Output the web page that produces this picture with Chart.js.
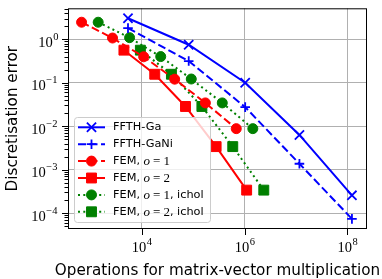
<!DOCTYPE html>
<html>
<head>
<meta charset="utf-8">
<script src="https://cdn.jsdelivr.net/npm/chart.js@4/dist/chart.umd.min.js"></script>
<style>
  html, body { margin: 0; padding: 0; background: #fff; }
  #wrap { width: 382px; height: 279px; }
</style>
</head>
<body>
<div id="wrap"><canvas id="myChart" width="382" height="279"></canvas></div>
<script>
// data
const fftOps = [5.4e3, 8.2e4, 1.03e6, 1.17e7, 1.23e8];
const gaErr = [3.05, 0.75, 0.10, 0.0063, 2.57e-4];
const gaNiErr = [1.81, 0.316, 0.0275, 1.37e-3, 7.4e-5];
const femO1Ops = [675, 2700, 1.09e4, 4.37e4, 1.73e5, 6.9e5];
const femO1Err = [2.47, 1.07, 0.396, 0.121, 0.0344, 0.0088];
const femO2Ops = [4.5e3, 1.79e4, 7.1e4, 2.8e5, 1.1e6];
const femO2Err = [0.562, 0.157, 0.0285, 3.4e-3, 3.39e-4];
const icholO1Ops = [1.42e3, 5.8e3, 2.34e4, 9.2e4, 3.69e5, 1.45e6];
const icholO1Err = [2.47, 1.09, 0.40, 0.122, 0.0344, 0.0088];
const icholO2Ops = [9.4e3, 3.78e4, 1.48e5, 5.9e5, 2.37e6];
const icholO2Err = [0.562, 0.157, 0.0285, 3.4e-3, 3.39e-4];

const xTickExps = [4, 6, 8];
const yTickExps = [0, -1, -2, -3, -4];

const xMin = Math.pow(10, 2.565), xMax = Math.pow(10, 8.383);
const yMin = Math.pow(10, -4.364), yMax = Math.pow(10, 0.713);

const BLUE = '#0000ff', RED = '#ff0000', GREEN = '#008000';
const DASH = [8, 3.5], DOT = [2, 3.3];

function pts(xs, ys) {
  return xs.map((x, i) => ({ x: x, y: ys[i] }));
}

function series(label, xs, ys, color, dash, style, radius) {
  return {
    label: label,
    data: pts(xs, ys),
    borderColor: color,
    backgroundColor: color,
    borderWidth: 2,
    borderDash: dash,
    pointStyle: style,
    pointRadius: radius,
    pointBorderWidth: style === 'cross' || style === 'crossRot' ? 1.8 : 1,
    pointBorderColor: color,
    pointBackgroundColor: color,
    tension: 0,
    fill: false
  };
}

const datasets = [
  series('FFTH-Ga', fftOps, gaErr, BLUE, [], 'crossRot', 6.5),
  series('FFTH-GaNi', fftOps, gaNiErr, BLUE, DASH, 'cross', 4.8),
  series('FEM, o = 1', femO1Ops, femO1Err, RED, DASH, 'circle', 5),
  series('FEM, o = 2', femO2Ops, femO2Err, RED, [], 'rect', 7),
  series('FEM, o = 1, ichol', icholO1Ops, icholO1Err, GREEN, DOT, 'circle', 5),
  series('FEM, o = 2, ichol', icholO2Ops, icholO2Err, GREEN, DOT, 'rect', 7)
];

const SANS = '"DejaVu Sans", sans-serif';
const SERIF = '"Liberation Serif", serif';

// draw "10" with a raised exponent
function drawPow(ctx, exp, x, y, align) {
  const e = exp < 0 ? '\u2212' + (-exp) : String(exp);
  ctx.font = '14.5px ' + SERIF;
  const wb = ctx.measureText('10').width;
  ctx.font = '10.5px ' + SERIF;
  const we = ctx.measureText(e).width + (exp < 0 ? 1 : 0);
  let x0 = align === 'right' ? x - wb - we : x - (wb + we) / 2;
  ctx.fillStyle = '#000';
  ctx.textAlign = 'left';
  ctx.textBaseline = 'alphabetic';
  ctx.font = '14.5px ' + SERIF;
  ctx.fillText('10', x0, y);
  ctx.font = '10.5px ' + SERIF;
  ctx.fillText(e, x0 + wb + 0.5, y - 7);
}

// legend label, "o = n" in math style
function drawLabel(ctx, text, x, y) {
  const m = text.match(/^(.*?)(o = \d)(.*)$/);
  ctx.textAlign = 'left';
  ctx.textBaseline = 'middle';
  ctx.fillStyle = '#000';
  ctx.font = '11.3px ' + SANS;
  if (!m) {
    ctx.fillText(text, x, y);
    return;
  }
  ctx.fillText(m[1], x, y);
  x += ctx.measureText(m[1]).width;
  ctx.font = 'italic 13px ' + SERIF;
  ctx.fillText('o', x, y + 0.5);
  x += ctx.measureText('o').width + 3;
  ctx.font = '13px ' + SERIF;
  ctx.fillText('=', x, y + 0.5);
  x += ctx.measureText('=').width + 3;
  ctx.fillText(m[2].slice(-1), x, y + 0.5);
  x += ctx.measureText('1').width;
  ctx.font = '11.3px ' + SANS;
  ctx.fillText(m[3], x, y);
}

const decorations = {
  id: 'decorations',
  afterDraw(chart) {
    const ctx = chart.ctx;
    const a = chart.chartArea;
    const xs = chart.scales.x, ys = chart.scales.y;
    ctx.save();

    // frame
    ctx.strokeStyle = '#000';
    ctx.lineWidth = 1;
    ctx.strokeRect(a.left + 0.5, a.top + 0.5, a.right - a.left - 1, a.bottom - a.top - 1);

    // tick marks
    ctx.beginPath();
    xs.ticks.forEach(t => {
      const px = Math.round(xs.getPixelForValue(t.value)) + 0.5;
      ctx.moveTo(px, a.bottom);
      ctx.lineTo(px, a.bottom + 6);
    });
    ys.ticks.forEach(t => {
      const py = Math.round(ys.getPixelForValue(t.value)) + 0.5;
      ctx.moveTo(a.left, py);
      ctx.lineTo(a.left - (t.major ? 6 : 3.5), py);
    });
    ctx.stroke();

    // tick labels
    xTickExps.forEach(e => {
      const px = xs.getPixelForValue(Math.pow(10, e));
      drawPow(ctx, e, px, 252, 'center');
    });
    yTickExps.forEach(e => {
      const py = ys.getPixelForValue(Math.pow(10, e));
      drawPow(ctx, e, a.left - 10, py + 7.5, 'right');
    });

    // axis titles
    ctx.fillStyle = '#000';
    ctx.font = '15.2px ' + SANS;
    ctx.textAlign = 'center';
    ctx.textBaseline = 'alphabetic';
    ctx.fillText('Operations for matrix-vector multiplication', (a.left + a.right) / 2, 274.5);
    ctx.save();
    ctx.translate(16.5, (a.top + a.bottom) / 2);
    ctx.rotate(-Math.PI / 2);
    ctx.fillText('Discretisation error', 0, 0);
    ctx.restore();

    // legend
    const lx = 74, ly = 117, lw = 136, lh = 105;
    ctx.beginPath();
    ctx.roundRect(lx + 0.5, ly + 0.5, lw, lh, 3);
    ctx.fillStyle = 'rgba(255,255,255,0.8)';
    ctx.fill();
    ctx.strokeStyle = '#cccccc';
    ctx.lineWidth = 1;
    ctx.stroke();

    chart.data.datasets.forEach((ds, i) => {
      const cy = 127.3 + i * 16.9;
      ctx.strokeStyle = ds.borderColor;
      ctx.lineWidth = ds.borderWidth;
      ctx.setLineDash(ds.borderDash);
      ctx.beginPath();
      ctx.moveTo(78, cy);
      ctx.lineTo(105, cy);
      ctx.stroke();
      ctx.setLineDash([]);
      ctx.fillStyle = ds.pointBackgroundColor;
      ctx.strokeStyle = ds.pointBorderColor;
      ctx.lineWidth = ds.pointBorderWidth;
      Chart.helpers.drawPoint(ctx, {
        pointStyle: ds.pointStyle,
        radius: ds.pointRadius,
        rotation: 0,
        borderWidth: ds.pointBorderWidth
      }, 91.5, cy);
      drawLabel(ctx, ds.label, 113, cy);
    });

    ctx.restore();
  }
};

function yTicks() {
  const list = [];
  for (let e = -5; e <= 1; e++) {
    for (let s = 1; s <= 9; s++) {
      const v = s * Math.pow(10, e);
      if (v >= yMin && v <= yMax) list.push({ value: v, major: s === 1 });
    }
  }
  return list;
}

const ctx = document.getElementById('myChart').getContext('2d');
const myChart = new Chart(ctx, {
  type: 'line',
  data: { datasets: datasets },
  options: {
    responsive: false,
    animation: false,
    layout: { padding: { left: 0, right: 15, top: 6, bottom: 0 } },
    plugins: { legend: { display: false }, tooltip: { enabled: false } },
    scales: {
      x: {
        type: 'logarithmic',
        min: xMin,
        max: xMax,
        afterBuildTicks: s => { s.ticks = xTickExps.map(e => ({ value: Math.pow(10, e), major: true })); },
        afterFit: s => { s.height = 50; },
        ticks: { display: false },
        grid: { color: '#b0b0b0', lineWidth: 1, drawTicks: false },
        border: { display: false }
      },
      y: {
        type: 'logarithmic',
        min: yMin,
        max: yMax,
        afterBuildTicks: s => { s.ticks = yTicks(); },
        afterFit: s => { s.width = 68; },
        ticks: { display: false },
        grid: {
          color: c => (c.tick && c.tick.major) ? '#b0b0b0' : 'rgba(0,0,0,0)',
          lineWidth: 1,
          drawTicks: false
        },
        border: { display: false }
      }
    }
  },
  plugins: [decorations]
});
</script>
</body>
</html>
